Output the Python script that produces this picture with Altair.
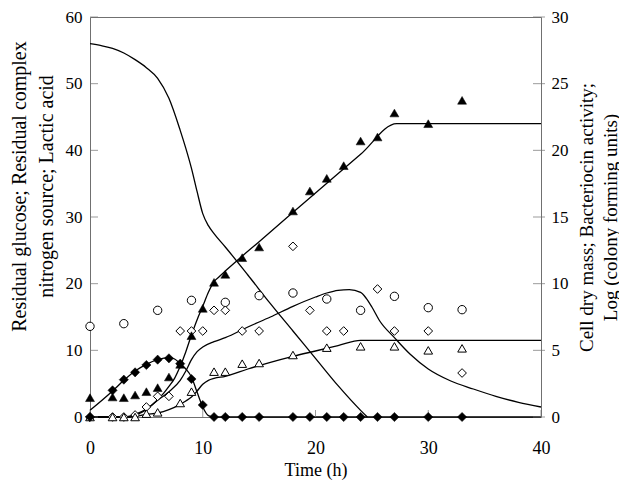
import altair as alt
import pandas as pd

# ---------------- observed points (left-axis units) ----------------
t_circle = [0, 3, 6, 9, 12, 15, 18, 21, 24, 27, 30, 33]
v_circle = [13.6, 14.0, 16.0, 17.5, 17.2, 18.2, 18.6, 17.7, 16.0, 18.1, 16.4, 16.1]

t_main = [0, 2, 3, 4, 5, 6, 7, 8, 9, 10, 11, 12, 13.5, 15, 18, 19.5, 21, 22.5, 24, 25.5, 27, 30, 33]
v_filled_tri = [2.9, 3.0, 2.9, 3.3, 3.8, 4.4, 6.0, 7.9, 12.2, 16.3, 20.2, 21.4, 23.9, 25.5,
                30.9, 33.9, 35.8, 37.7, 41.4, 42.0, 45.6, 44.0, 47.5]
v_filled_dia = [0, 4.0, 5.6, 6.7, 7.8, 8.6, 8.8, 8.0, 5.7, 1.8, 0, 0, 0, 0,
                0, 0, 0, 0, 0, 0, 0, 0, 0]

t_open_dia = [0, 2, 3, 4, 5, 6, 7, 8, 9, 10, 11, 12, 13.5, 15, 18, 19.5, 21, 22.5, 25.5, 27, 30, 33]
v_open_dia = [0, 0, 0, 0.3, 1.5, 3.1, 3.1, 12.9, 12.9, 12.9, 16.0, 16.0, 12.9, 12.9,
              25.6, 16.0, 12.9, 12.9, 19.2, 12.9, 12.9, 6.6]

t_open_tri = [0, 2, 3, 4, 5, 6, 8, 9, 11, 12, 13.5, 15, 18, 21, 24, 27, 30, 33]
v_open_tri = [0, 0, 0, 0, 0.5, 0.7, 2.1, 3.8, 6.8, 6.8, 8.0, 8.1, 9.3, 10.4, 10.6, 10.6, 10.0, 10.3]

# ---------------- fitted model curves (left-axis units) ----------------
t_curve_a = [0, 1, 2, 3, 4, 5, 6, 7, 8, 8.5, 9, 9.5, 10, 10.5, 11, 12, 14, 16, 18, 20, 22, 24, 24.6]
v_curve_a = [56.0, 55.7, 55.3, 54.6, 53.6, 52.4, 50.8, 47.8, 43.0, 40.3, 37.3, 33.8, 30.5, 28.7,
             27.5, 25.5, 21.3, 17.0, 12.9, 8.8, 4.7, 1.0, 0]

t_curve_b = [0, 3.5, 4, 5, 5.5, 6, 6.5, 7, 7.5, 8, 8.5, 9, 9.5, 10, 10.5, 11, 11.5, 12, 13,
             15, 20, 24, 27.2, 40]
v_curve_b = [0, 0, 0.3, 1.1, 1.8, 2.6, 3.5, 4.6, 5.8, 7.6, 9.8, 12.3, 14.6, 16.6, 18.7, 20.3,
             21.1, 21.9, 23.4, 26.3, 33.6, 39.4, 44.0, 44.0]

t_curve_c = [0, 3, 4, 5, 6, 7, 8, 8.5, 9, 9.5, 10, 11, 12, 14, 16, 18, 20, 21, 22, 23, 24,
             24.5, 25, 25.7, 27, 28.4, 30, 32, 34, 36, 38, 40]
v_curve_c = [0, 0, 0.4, 1.2, 2.5, 3.8, 5.5, 6.9, 8.6, 9.8, 10.5, 11.3, 11.9, 13.5, 15.0, 16.6,
             18.0, 18.6, 19.0, 19.1, 18.7, 17.8, 16.5, 14.4, 11.9, 9.4, 7.2, 5.4, 4.2, 3.1, 2.2, 1.5]

t_curve_d = [0, 3.5, 4, 5, 6, 7, 8, 8.5, 9, 9.5, 10, 10.5, 11, 12, 14, 16, 18, 20, 22, 24, 40]
v_curve_d = [0, 0, 0.1, 0.4, 0.6, 1.1, 1.9, 2.4, 3.0, 3.9, 4.9, 5.5, 5.8, 6.1, 7.2, 8.2, 9.1,
             9.9, 10.7, 11.5, 11.5]

t_curve_e = [0, 2, 3, 4, 5, 6, 7, 7.5, 8, 8.5, 9, 9.5, 10, 10.5, 11, 40]
v_curve_e = [1.0, 3.9, 5.5, 6.9, 7.9, 8.6, 8.9, 8.7, 8.0, 7.2, 6.0, 3.7, 1.5, 0.2, 0, 0]

# ---------------- axis ticks and titles ----------------
x_ticks = [0, 10, 20, 30, 40]
left_ticks = [0, 10, 20, 30, 40, 50, 60]
right_ticks = [0, 5, 10, 15, 20, 25, 30]

left_title = ["Residual glucose; Residual complex", "nitrogen source; Lactic acid"]
right_title = ["Cell dry mass; Bacteriocin activity;", "Log (colony forming units)"]
x_title = "Time (h)"

FONT = "Liberation Serif"
W, H = 451, 400


def frame(ts, vs, name, key):
    return pd.DataFrame({"t": ts, "v": vs, key: name})


points = pd.concat([
    frame(t_circle, v_circle, "open_circle", "series"),
    frame(t_main, v_filled_tri, "filled_tri", "series"),
    frame(t_main, v_filled_dia, "filled_dia", "series"),
    frame(t_open_dia, v_open_dia, "open_dia", "series"),
    frame(t_open_tri, v_open_tri, "open_tri", "series"),
], ignore_index=True)

curves = pd.concat([
    frame(t_curve_a, v_curve_a, "A", "curve"),
    frame(t_curve_b, v_curve_b, "B", "curve"),
    frame(t_curve_c, v_curve_c, "C", "curve"),
    frame(t_curve_d, v_curve_d, "D", "curve"),
    frame(t_curve_e, v_curve_e, "E", "curve"),
], ignore_index=True)

xscale = alt.Scale(domain=[0, 40], nice=False, zero=True)
yscale = alt.Scale(domain=[0, 60], nice=False, zero=True)
rscale = alt.Scale(domain=[0, 30], nice=False, zero=True)

x_axis = alt.Axis(values=x_ticks, title=x_title, orient="bottom", ticks=False, tickSize=0,
                  domain=False, grid=False, labelFont=FONT, labelFontSize=18, labelColor="black",
                  labelBaseline="alphabetic", labelPadding=36, labelFlush=False,
                  titleFont=FONT, titleFontSize=18, titleFontWeight="normal", titleColor="black",
                  titleX=W / 2, titleY=58, titleAlign="center", titleBaseline="alphabetic")

y_axis = alt.Axis(values=left_ticks, title=left_title, orient="left", ticks=False, tickSize=0,
                  domain=False, grid=False, labelFont=FONT, labelFontSize=17, labelColor="black",
                  labelPadding=8, labelFlush=False,
                  titleFont=FONT, titleFontSize=20, titleFontWeight="normal", titleColor="black",
                  titleAngle=270, titleX=-81, titleY=169, titleAlign="center",
                  titleBaseline="top", titleLineHeight=27)

r_axis = alt.Axis(values=right_ticks, title=right_title, orient="right", ticks=False, tickSize=0,
                  domain=False, grid=False, labelFont=FONT, labelFontSize=17, labelColor="black",
                  labelPadding=10, labelFlush=False,
                  titleFont=FONT, titleFontSize=19, titleFontWeight="normal", titleColor="black",
                  titleAngle=270, titleX=36, titleY=H / 2, titleAlign="center",
                  titleBaseline="top", titleLineHeight=24)

X = alt.X("t:Q", scale=xscale, axis=x_axis)
Y = alt.Y("v:Q", scale=yscale, axis=y_axis)

lines = alt.Chart(curves).mark_line(color="black", strokeWidth=1.3, interpolate="monotone").encode(
    x=X, y=Y, detail="curve:N",
)

left_tick_marks = alt.Chart(pd.DataFrame({"v": left_ticks})).mark_tick(
    orient="horizontal", color="#707070", size=8, thickness=1).encode(
    y=Y, x=alt.value(4))

bottom_tick_marks = alt.Chart(pd.DataFrame({"t": x_ticks})).mark_tick(
    orient="vertical", color="#707070", size=7, thickness=1).encode(
    x=X, y=alt.value(H - 3.5))


def pts(name, shape, filled, size):
    fill = "black" if filled else "white"
    sw = 0.5 if filled else 1
    return alt.Chart(points).mark_point(
        shape=shape, filled=True, fill=fill, stroke="black", strokeWidth=sw,
        size=size, opacity=1).encode(x=X, y=Y).transform_filter(alt.datum.series == name)


left_group = alt.layer(
    lines,
    left_tick_marks,
    bottom_tick_marks,
    pts("open_circle", "circle", False, 70),
    pts("open_dia", "diamond", False, 75),
    pts("open_tri", "triangle-up", False, 75),
    pts("filled_dia", "diamond", True, 85),
    pts("filled_tri", "triangle-up", True, 80),
)

right_layer = alt.Chart(pd.DataFrame({"r": right_ticks})).mark_tick(
    orient="horizontal", color="#707070", size=12, thickness=1).encode(
    y=alt.Y("r:Q", scale=rscale, axis=r_axis),
    x=alt.value(W - 2),
)

chart = alt.layer(left_group, right_layer).resolve_scale(y="independent").properties(
    width=W, height=H,
    autosize=alt.AutoSizeParams(type="none"),
    padding={"left": 82, "top": 9, "right": 78, "bottom": 65},
    background="white",
).configure_view(stroke="#707070", strokeWidth=1).configure_axis(
    labelFont=FONT, titleFont=FONT)

chart.save("out.html", embed_options={"renderer": "svg", "actions": False})
